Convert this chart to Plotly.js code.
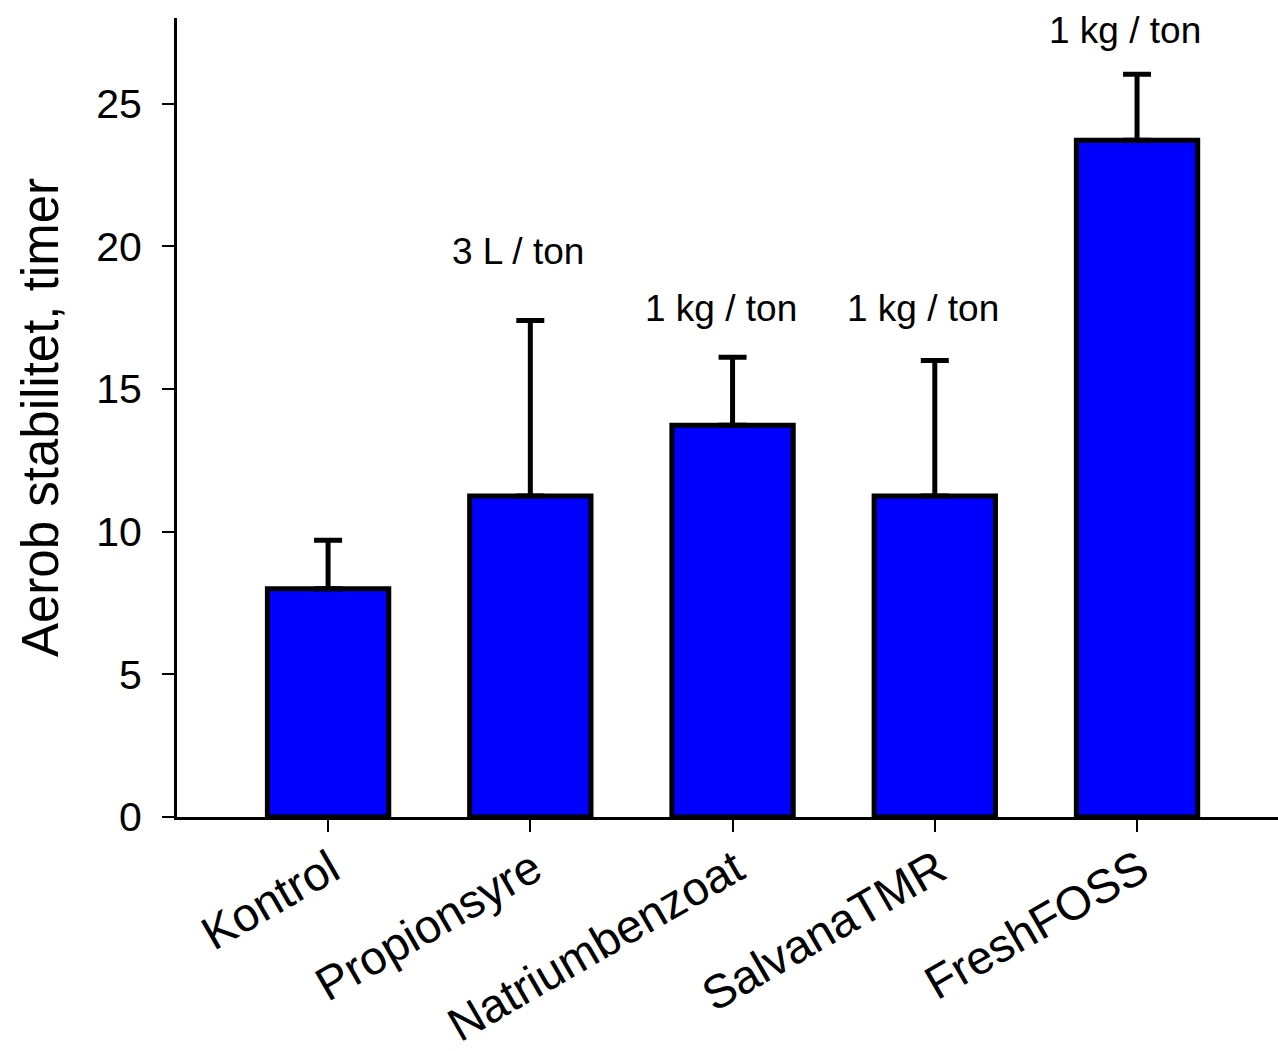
<!DOCTYPE html>
<html>
<head>
<meta charset="utf-8">
<script src="https://cdn.plot.ly/plotly-3.0.1.min.js"></script>
<style>html,body{margin:0;padding:0;background:#fff;}#chart{width:1278px;height:1051px;}</style>
</head>
<body>
<div id="chart"></div>
<script>
const categories = ["Kontrol", "Propionsyre", "Natriumbenzoat", "SalvanaTMR", "FreshFOSS"];
const values = [8.0, 11.25, 13.73, 11.25, 23.72];
const errorsUp = [1.7, 6.15, 2.38, 4.75, 2.31];
const doseLabels = ["", "3 L / ton", "1 kg / ton", "1 kg / ton", "1 kg / ton"];
const doseLabelY = [null, 19.83, 17.83, 17.83, 27.57];
const yTicks = [0, 5, 10, 15, 20, 25];

const FONT = "Arial, 'Liberation Sans', sans-serif";

const trace = {
  type: "bar",
  x: categories,
  y: values,
  width: 0.6,
  marker: {color: "#0000ff", line: {color: "#000000", width: 5}},
  error_y: {
    type: "data",
    symmetric: false,
    array: errorsUp,
    arrayminus: values.map(() => 0),
    color: "#000000",
    thickness: 5,
    width: 14
  },
  hoverinfo: "none"
};

const annotations = [];
categories.forEach((c, i) => {
  if (doseLabels[i]) {
    annotations.push({
      x: c, y: doseLabelY[i], xref: "x", yref: "y",
      text: doseLabels[i], showarrow: false,
      xshift: -12, yanchor: "middle",
      font: {family: FONT, size: 37, color: "#000"}
    });
  }
});

const layout = {
  width: 1278, height: 1051,
  margin: {l: 177, r: 0, t: 18, b: 234},
  paper_bgcolor: "#fff", plot_bgcolor: "#fff",
  showlegend: false,
  font: {family: FONT, color: "#000"},
  xaxis: {
    type: "category",
    range: [-0.747, 4.697],
    showgrid: false, zeroline: false,
    showline: true, linecolor: "#000", linewidth: 2.5,
    ticks: "outside", ticklen: 12, tickwidth: 2, tickcolor: "#000",
    tickangle: -30,
    ticklabelshift: 3,
    ticklabelstandoff: -8,
    tickfont: {family: FONT, size: 47, color: "#000"}
  },
  yaxis: {
    range: [0, 28],
    tickvals: yTicks,
    ticktext: yTicks.map(String),
    showgrid: false, zeroline: false,
    showline: true, linecolor: "#000", linewidth: 3,
    ticks: "outside", ticklen: 12, tickwidth: 2, tickcolor: "#000",
    ticklabelstandoff: 12,
    tickfont: {family: FONT, size: 41, color: "#000"},
    title: {text: "Aerob stabilitet, timer", font: {family: FONT, size: 51, color: "#000"}, standoff: 22}
  },
  annotations: annotations
};

Plotly.newPlot("chart", [trace], layout, {displayModeBar: false, staticPlot: true});
</script>
</body>
</html>
